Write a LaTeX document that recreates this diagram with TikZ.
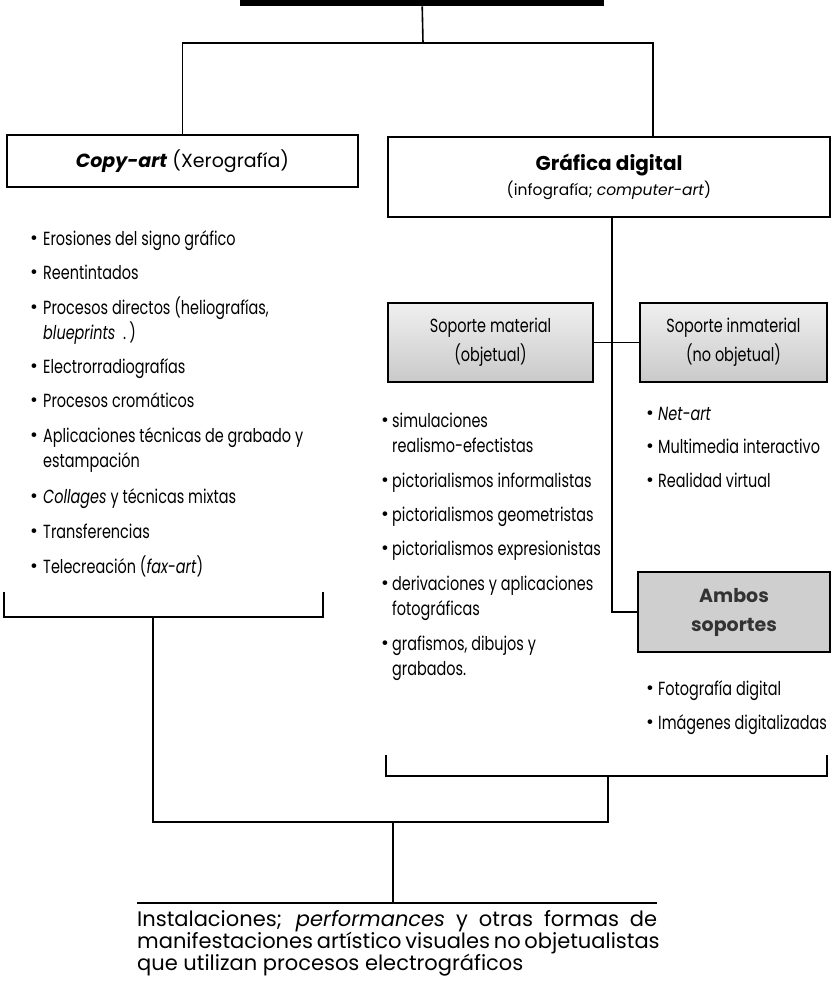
\documentclass[tikz,border=0pt]{standalone}
\usepackage{fontspec}
\setmainfont{Poppins}
\newfontfamily\cond[FakeStretch=0.76]{Poppins}
\usetikzlibrary{calc}
\newcommand\bul[1][13pt]{\makebox[#1][l]{\normalfont\fontsize{19}{19}\selectfont\raisebox{0.5pt}{•}}}
\newcommand\itm[2][13pt]{\bul[#1]\begin{tabular}[t]{@{}l@{}}#2\end{tabular}}
\begin{document}
\begin{tikzpicture}[x=1pt,y=-1pt,
  conn/.style={line width=1.6pt},
  hbox/.style={draw, line width=1.5pt, inner sep=0pt, align=center},
  sbox/.style={draw, line width=1.8pt, top color=gray!12, bottom color=gray!42, inner sep=0pt, align=center, font=\cond\fontsize{19}{29}\selectfont},
  item/.style={anchor=base west, inner sep=0pt, font=\cond\fontsize{19}{25}\selectfont}]
\useasboundingbox (0,0) rectangle (834,992);

% title (cut off at top)
\node[fill=black, inner sep=0pt, minimum width=364pt, minimum height=7pt, anchor=north west] (title) at (240,-1) {};

% main boxes
\node[hbox, minimum width=351pt, minimum height=52pt, font=\fontsize{19}{22}\selectfont] (copy) at (182.5,161) {\textbf{\textit{Copy-art}} (Xerografía)};
\node[hbox, minimum width=442pt, minimum height=80pt, font=\fontsize{15.5}{25}\selectfont] (graf) at (609,177) {{\fontsize{20}{25}\selectfont\bfseries Gráfica digital}\\(infografía; \textit{computer-art})};

% sub boxes
\node[sbox, minimum width=205pt, minimum height=79pt] (smat) at (490.5,342.5) {Soporte material\\(objetual)};
\node[sbox, minimum width=187pt, minimum height=79pt] (sinm) at (733.5,342.5) {Soporte inmaterial\\(no objetual)};
\node[draw, line width=2.6pt, fill=gray!38, inner sep=0pt, minimum width=192pt, minimum height=80pt, align=center, font=\bfseries\fontsize{19}{29}\selectfont, text=black!80] (ambos) at (734,612) {Ambos\\soportes};

% connectors top
\coordinate (j1) at (423,43);
\draw[conn] (title.south) -- (j1);
\draw[conn] (copy.north) |- (j1) -| ([xshift=44pt]graf.north);
\draw[conn] ([xshift=3pt]graf.south) |- (ambos.west);
\draw[conn] (smat.east) -- (sinm.west);

% left list
\node[item] (l1) at (30,245) {\itm{Erosiones del signo gráfico}};
\node[item] (l2) at (30,279) {\itm{Reentintados}};
\node[item] (l3) at (30,314) {\itm{Procesos directos (heliografías,\\\textit{blueprints}\ \ .\,)}};
\node[item] (l4) at (30,373) {\itm{Electrorradiografías}};
\node[item] (l5) at (30,407) {\itm{Procesos cromáticos}};
\node[item] (l6) at (30,442) {\itm{Aplicaciones técnicas de grabado y\\estampación}};
\node[item] (l7) at (30,503) {\itm{\textit{Collages} y técnicas mixtas}};
\node[item] (l8) at (30,538) {\itm{Transferencias}};
\node[item] (l9) at (30,573) {\itm{Telecreación (\textit{fax-art})}};

% middle list
\node[item] (m1) at (381,427) {\itm[11pt]{simulaciones\\realismo-efectistas}};
\node[item] (m2) at (381,487) {\itm[11pt]{pictorialismos informalistas}};
\node[item] (m3) at (381,521) {\itm[11pt]{pictorialismos geometristas}};
\node[item] (m4) at (381,555) {\itm[11pt]{pictorialismos expresionistas}};
\node[item] (m5) at (381,590) {\itm[11pt]{derivaciones y aplicaciones\\fotográficas}};
\node[item] (m6) at (381,650) {\itm[11pt]{grafismos, dibujos y\\grabados.}};

% right lists
\node[item] (r1) at (646,420) {\itm[12pt]{\textit{Net-art}}};
\node[item] (r2) at (646,453) {\itm[12pt]{Multimedia interactivo}};
\node[item] (r3) at (646,487) {\itm[12pt]{Realidad virtual}};
\node[item] (a1) at (646,695) {\itm[12pt]{Fotografía digital}};
\node[item] (a2) at (646,729) {\itm[12pt]{Imágenes digitalizadas}};

% brackets
\coordinate (lb1) at (4,592);
\coordinate (lb2) at (323,592);
\coordinate (lb3) at (153,617);
\draw[conn] (lb1) |- (lb3) -| (lb2);
\coordinate (rb1) at (386,755);
\coordinate (rb2) at (827,755);
\coordinate (rb3) at (608,776);
\draw[conn] (rb1) |- (rb3) -| (rb2);
\coordinate (j2) at (393,822);
\draw[conn] (lb3) |- (j2) -| (rb3);

% bottom
\coordinate (b1) at (137,903);
\coordinate (b2) at (657,903);
\draw[conn] (b1) -- (b2);
\draw[conn] (j2) -- (j2 |- b1);
\node[anchor=north west, inner sep=0pt, align=left, font=\fontsize{21}{22}\selectfont] (inst) at (137,910)
 {\makebox[520pt][s]{Instalaciones; \textit{performances} y otras formas de}\\
  \makebox[520pt][s]{manifestaciones artístico visuales no objetualistas}\\
  que utilizan procesos electrográficos};
\end{tikzpicture}
\end{document}
